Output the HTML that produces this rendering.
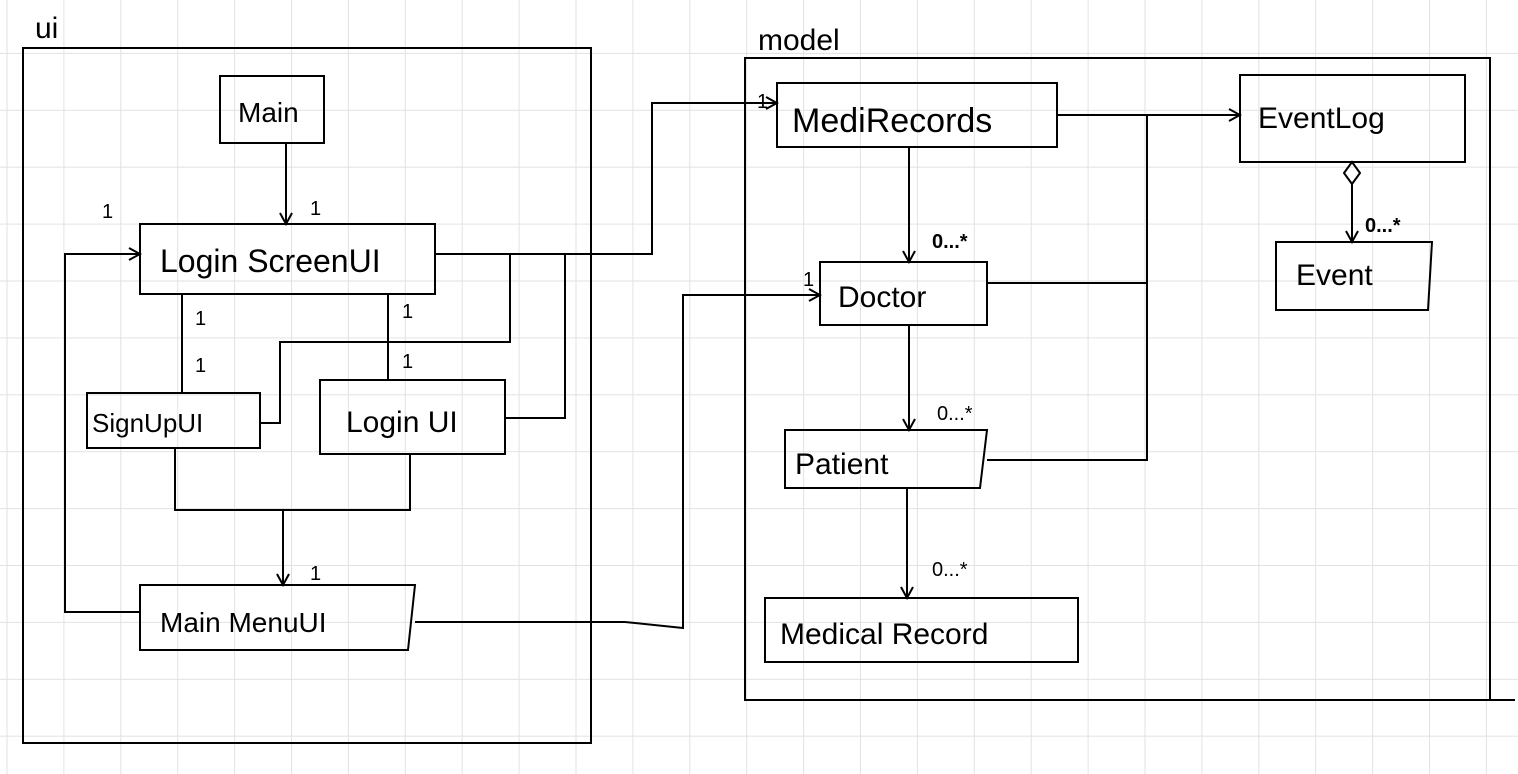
<!DOCTYPE html>
<html><head><style>
html,body{margin:0;padding:0;background:#fff;}
svg{display:block;}
text{font-family:"Liberation Sans",sans-serif;fill:#000;}
</style></head><body>
<svg width="1518" height="774" viewBox="0 0 1518 774" xmlns="http://www.w3.org/2000/svg">
<defs>
<pattern id="g" x="6.5" y="-4" width="56.9" height="56.9" patternUnits="userSpaceOnUse">
<path d="M0 0V56.9M0 0H56.9" stroke="#e2e2e2" stroke-width="2" fill="none"/>
</pattern>
<marker id="a" markerWidth="14" markerHeight="14" refX="12" refY="7" orient="auto" markerUnits="userSpaceOnUse">
<path d="M1 1L12 7L1 13" fill="none" stroke="#000" stroke-width="2"/>
</marker>
</defs>
<rect width="1518" height="774" fill="url(#g)"/>
<g fill="none" stroke="#000" stroke-width="2">
<rect x="23" y="48" width="568" height="695"/>
<path d="M745 58H1490V700H745Z M1490 700H1515"/>
<rect x="220" y="76" width="104" height="67"/>
<rect x="140" y="224" width="295" height="70"/>
<rect x="87" y="393" width="173" height="55"/>
<rect x="320" y="380" width="185" height="74"/>
<path d="M140 585H415L408 650H140Z"/>
<rect x="777" y="83" width="280" height="64"/>
<rect x="1240" y="75" width="225" height="87"/>
<path d="M1276 242H1432L1428 310H1276Z"/>
<rect x="820" y="262" width="167" height="63"/>
<path d="M785 430H987L980 488H785Z"/>
<rect x="765" y="598" width="313" height="64"/>
<path d="M286 143V224" marker-end="url(#a)"/>
<path d="M435 254H652V103H777" marker-end="url(#a)"/>
<path d="M510 254V342H280V423H260"/>
<path d="M565 254V418H505"/>
<path d="M182 294V393M388 294V380"/>
<path d="M175 448V510H410V454"/>
<path d="M283 510V585" marker-end="url(#a)"/>
<path d="M140 612H65V254H140" marker-end="url(#a)"/>
<path d="M415 622H625L683 628V295H820" marker-end="url(#a)"/>
<path d="M1057 115H1240" marker-end="url(#a)"/>
<path d="M1147 115V460H987M987 283H1147"/>
<path d="M909 147V262" marker-end="url(#a)"/>
<path d="M909 325V430" marker-end="url(#a)"/>
<path d="M907 488V598" marker-end="url(#a)"/>
<path d="M1352 162L1360 173L1352 184L1344 173Z"/>
<path d="M1352 184V242" marker-end="url(#a)"/>
</g>
<g font-size="30">
<text x="35" y="38">ui</text>
<text x="758" y="50">model</text>
<text x="238" y="122" font-size="28">Main</text>
<text x="160" y="272" font-size="32">Login ScreenUI</text>
<text x="92" y="432" font-size="26">SignUpUI</text>
<text x="346" y="432">Login UI</text>
<text x="160" y="632" font-size="28">Main MenuUI</text>
<text x="792" y="132" font-size="34">MediRecords</text>
<text x="1258" y="128">EventLog</text>
<text x="1296" y="285">Event</text>
<text x="838" y="307">Doctor</text>
<text x="795" y="474">Patient</text>
<text x="780" y="644">Medical Record</text>
</g>
<g font-size="20">
<text x="310" y="215">1</text>
<text x="102" y="218">1</text>
<text x="195" y="325">1</text>
<text x="195" y="372">1</text>
<text x="402" y="318">1</text>
<text x="402" y="368">1</text>
<text x="310" y="580">1</text>
<text x="757" y="108">1</text>
<text x="803" y="286">1</text>
<text x="932" y="248" font-weight="bold">0...*</text>
<text x="937" y="420">0...*</text>
<text x="932" y="576">0...*</text>
<text x="1365" y="232" font-weight="bold">0...*</text>
</g>
</svg>
</body></html>
